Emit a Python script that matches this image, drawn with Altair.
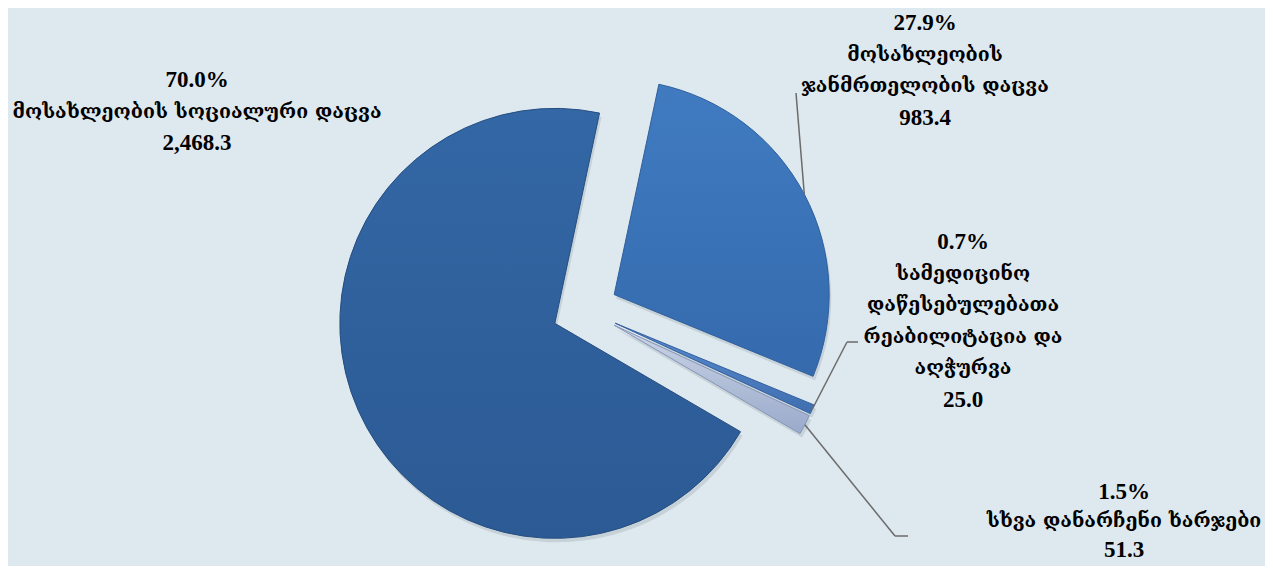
import math
import altair as alt
import pandas as pd

# ---- data ----
categories = [
    "მოსახლეობის ჯანმრთელობის დაცვა",
    "სამედიცინო დაწესებულებათა რეაბილიტაცია და აღჭურვა",
    "სხვა დანარჩენი ხარჯები",
    "მოსახლეობის სოციალური დაცვა",
]
values = [983.4, 25.0, 51.3, 2468.3]
percents = [27.9, 0.7, 1.5, 70.0]
value_labels = ["983.4", "25.0", "51.3", "2,468.3"]
label_lines = [
    ["მოსახლეობის", "ჯანმრთელობის დაცვა"],
    ["სამედიცინო", "დაწესებულებათა", "რეაბილიტაცია და", "აღჭურვა"],
    ["სხვა დანარჩენი ხარჯები"],
    ["მოსახლეობის სოციალური დაცვა"],
]

df = pd.DataFrame({
    "idx": list(range(len(categories))),
    "category": categories,
    "value": values,
    "pct": percents,
})

rows = []
for i, (p, ls, v) in enumerate(zip(percents, label_lines, value_labels)):
    block = [(f"{p:.1f}%", "num")] + [(s, "geo") for s in ls] + [(v, "num")]
    for j, (t, kind) in enumerate(block):
        rows.append({"idx": i, "line": j, "text": t, "kind": kind})
lines_df = pd.DataFrame(rows)

# ---- layout / style ----
W, H = 1257, 558
CX, CY = 577, 302          # pie centre (chart coords)
R = 215                    # radius
EXPLODE = 33               # explosion distance
START = math.radians(12)   # first slice starts 12 deg clockwise from 12 o'clock
TOTAL = sum(percents)
BG = "#dee8ef"
NUM_FONT = "Liberation Serif"
GEO_FONT = "DejaVu Serif, DejaVu Sans"

fills = [
    alt.LinearGradient(gradient="linear", x1=0, x2=0, y1=0, y2=1,
                       stops=[alt.GradientStop(color="#407bc1", offset=0),
                              alt.GradientStop(color="#356aad", offset=1)]),
    alt.LinearGradient(gradient="linear", x1=0, x2=0, y1=0, y2=1,
                       stops=[alt.GradientStop(color="#5a8bd0", offset=0),
                              alt.GradientStop(color="#3f6fb0", offset=1)]),
    alt.LinearGradient(gradient="linear", x1=0, x2=0, y1=0, y2=1,
                       stops=[alt.GradientStop(color="#ccd5e7", offset=0),
                              alt.GradientStop(color="#9aaacb", offset=1)]),
    alt.LinearGradient(gradient="linear", x1=0, x2=0, y1=0, y2=1,
                       stops=[alt.GradientStop(color="#3367a5", offset=0),
                              alt.GradientStop(color="#2c5a94", offset=1)]),
]
strokes = ["#2f5f9c", "#34609e", "#8595b5", "#244d80"]

theta_scale = alt.Scale(domain=[0, TOTAL], range=[START, START + 2 * math.pi])

# slice mid-angles from cumulative percents
mids = []
acc = 0.0
for p in percents:
    mids.append(START + 2 * math.pi * (acc + p / 2) / TOTAL)
    acc += p
apex = [(CX + EXPLODE * math.sin(m), CY - EXPLODE * math.cos(m)) for m in mids]

base = (
    alt.Chart(df)
    .transform_window(cum="sum(pct)", sort=[alt.SortField("idx")])
    .transform_calculate(start="datum.cum - datum.pct")
)

layers = []
# soft shadows
for i in range(len(categories)):
    ax, ay = apex[i]
    layers.append(
        base.transform_filter(alt.datum.idx == i)
        .mark_arc(radius=R, color="#9aa6b0", opacity=0.35)
        .encode(theta=alt.Theta("start:Q", scale=theta_scale), theta2="cum:Q",
                x=alt.value(ax + 2), y=alt.value(ay + 4))
    )
# slices
for i in range(len(categories)):
    ax, ay = apex[i]
    layers.append(
        base.transform_filter(alt.datum.idx == i)
        .mark_arc(radius=R, fill=fills[i], stroke=strokes[i], strokeWidth=1)
        .encode(theta=alt.Theta("start:Q", scale=theta_scale), theta2="cum:Q",
                x=alt.value(ax), y=alt.value(ay),
                tooltip=["category:N", "value:Q", "pct:Q"])
    )

# leader lines: start on each slice's outer edge at its mid-angle
def edge(i):
    ax, ay = apex[i]
    return ax + R * math.sin(mids[i]), ay - R * math.cos(mids[i])

leader_paths = [
    [edge(0), (788, 85)],
    [edge(1), (839, 334), (850, 334)],
    [edge(2), (887, 528), (900, 528)],
]
for path in leader_paths:
    for (x1, y1), (x2, y2) in zip(path[:-1], path[1:]):
        layers.append(
            alt.Chart(df).transform_filter(alt.datum.idx == 0)
            .mark_rule(color="#6b6b6b", strokeWidth=1.5)
            .encode(x=alt.value(x1), y=alt.value(y1), x2=alt.value(x2), y2=alt.value(y2))
        )

# labels: (centre x, first-line centre y, line spacing)
label_pos = [(917, 15, 31.5), (955, 234, 31.5), (1116, 484, 29), (189, 72, 31.5)]
for _, r in lines_df.iterrows():
    i, j = int(r["idx"]), int(r["line"])
    lx, ly, lh = label_pos[i]
    if r["kind"] == "num":
        mk = dict(font=NUM_FONT, fontSize=23, fontWeight="bold")
    else:
        mk = dict(font=GEO_FONT, fontSize=19.5, fontWeight="bold")
    layers.append(
        alt.Chart(lines_df)
        .transform_filter((alt.datum.idx == i) & (alt.datum.line == j))
        .mark_text(color="#000000", align="center", baseline="middle", **mk)
        .encode(text="text:N", x=alt.value(lx), y=alt.value(ly + j * lh))
    )

chart = (
    alt.layer(*layers)
    .properties(width=W, height=H, background=BG, padding=0,
                autosize=alt.AutoSizeParams(type="none"))
    .configure_view(stroke=None)
)

chart.save("out.html", embed_options={"renderer": "svg", "actions": False})
